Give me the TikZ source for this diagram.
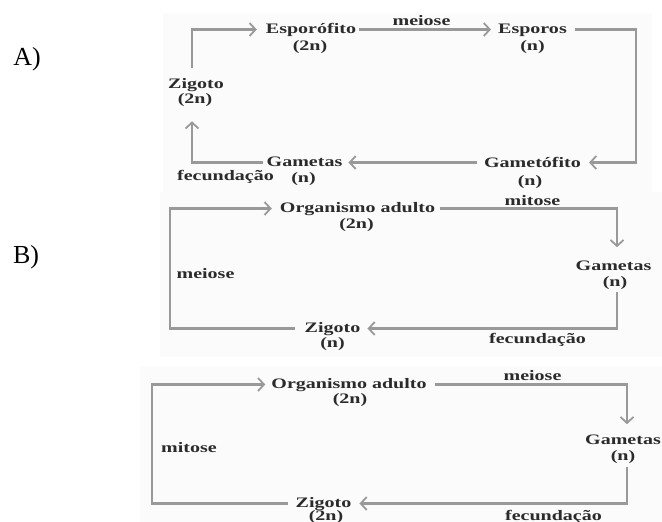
\documentclass[tikz,border=0pt]{standalone}
\usepackage{fontspec}
\setmainfont{Liberation Serif}
\newfontfamily\labfont{Liberation Serif}[FakeStretch=1.38]
\usetikzlibrary{arrows.meta,calc}
\definecolor{lin}{HTML}{999999}
\definecolor{txt}{HTML}{2B2B2B}
\definecolor{bgc}{HTML}{FBFBFB}
\tikzset{
  lab/.style={inner sep=0pt, anchor=base, text=txt, font=\labfont\bfseries\fontsize{14.5}{16}\selectfont},
  conn/.style={draw=lin, line width=2.1pt, -{Straight Barb[length=6pt,width=13pt,line width=1.8pt]}},
  letter/.style={inner sep=0pt, anchor=base, font=\fontsize{26}{28}\selectfont},
  panel/.style={fill=bgc, draw=none}
}
\begin{document}
\begin{tikzpicture}[x=1pt,y=-1pt]
\useasboundingbox (0,0) rectangle (662,522);
\fill[white] (0,0) rectangle (662,522);
% faint backgrounds
\path[panel] (163,13) rectangle (652,192);
\path[panel] (160,192) rectangle (662,357);
\path[panel] (140,366) rectangle (662,522);

% letters
\node[letter] (la) at (27,65) {A)};
\node[letter] (lb) at (26,263) {B)};

% ---------- A ----------
\node[lab] (espA)  at (311,33)  {Esporófito};
\node[lab] (espA2) at (310,50)  {(2n)};
\node[lab] (sporA) at (532.5,33) {Esporos};
\node[lab] (sporA2) at (532.5,50) {(n)};
\node[lab] (gmfA)  at (532.5,167) {Gametófito};
\node[lab] (gmfA2) at (530,185) {(n)};
\node[lab] (gmtA)  at (304.5,166) {Gametas};
\node[lab] (gmtA2) at (303.5,182) {(n)};
\node[lab] (zigA)  at (196,88) {Zigoto};
\node[lab] (zigA2) at (195,103) {(2n)};
\node[lab] (meiA)  at (421.5,25) {meiose};
\node[lab] (fecA)  at (225.5,180) {fecundação};
\coordinate (cA1) at (636,29.5);

\draw[conn] ([xshift=-4pt,yshift=10pt]zigA.north) |- ([xshift=-9pt,yshift=3.5pt]espA.base west);
\draw[conn] ([xshift=3pt,yshift=3.5pt]espA.base east) -- ([xshift=-7pt,yshift=3.5pt]sporA.base west);
\draw[conn] ([xshift=8pt,yshift=3.5pt]sporA.base east) -- (cA1) |- ([xshift=8pt,yshift=4.5pt]gmfA.base east);
\draw[conn] ([xshift=-7pt,yshift=4.5pt]gmfA.base west) -- ([xshift=6pt,yshift=3.5pt]gmtA.base east);
\draw[conn] ([xshift=-4pt,yshift=3.5pt]gmtA.base west) -| ([xshift=-3pt,yshift=-15pt]zigA2.south);

% ---------- B ----------
\node[lab] (orgB)  at (357.5,212) {Organismo adulto};
\node[lab] (orgB2) at (356.5,228) {(2n)};
\node[lab] (gamB)  at (613.5,270) {Gametas};
\node[lab] (gamB2) at (615,286) {(n)};
\node[lab] (zigB)  at (332.5,332) {Zigoto};
\node[lab] (zigB2) at (332.5,347) {(n)};
\node[lab] (mitB)  at (532.5,205) {mitose};
\node[lab] (meiB)  at (205.5,278) {meiose};
\node[lab] (fecB)  at (537.5,343) {fecundação};
\coordinate (cB2) at (170,208.5);

\draw[conn] ([xshift=5pt,yshift=3.5pt]orgB.base east) -| ([xshift=3.5pt,yshift=13pt]gamB.north);
\draw[conn] ([xshift=2pt,yshift=-3pt]gamB2.south) |- ([xshift=7pt,yshift=3.5pt]zigB.base east);
\draw[conn] ([xshift=-10pt,yshift=3.5pt]zigB.base west) -| (cB2) -- ([xshift=-8pt,yshift=3.5pt]orgB.base west);

% ---------- C ----------
\node[lab] (orgC)  at (349,388) {Organismo adulto};
\node[lab] (orgC2) at (350,403) {(2n)};
\node[lab] (gamC)  at (623,444) {Gametas};
\node[lab] (gamC2) at (623,460) {(n)};
\node[lab] (zigC)  at (323.5,507) {Zigoto};
\node[lab] (zigC2) at (326,520) {(2n)};
\node[lab] (mitC)  at (189,452) {mitose};
\node[lab] (meiC)  at (532.5,380) {meiose};
\node[lab] (fecC)  at (553.5,520) {fecundação};
\coordinate (cC) at (152,384.5);

\draw[conn] ([xshift=8pt,yshift=3.5pt]orgC.base east) -| ([xshift=4pt,yshift=10pt]gamC.north);
\draw[conn] ([xshift=4pt,yshift=-4pt]gamC2.south) |- ([xshift=8pt,yshift=3.5pt]zigC.base east);
\draw[conn] ([xshift=-8pt,yshift=3.5pt]zigC.base west) -| (cC) -- ([xshift=-6pt,yshift=3.5pt]orgC.base west);
\end{tikzpicture}
\end{document}
